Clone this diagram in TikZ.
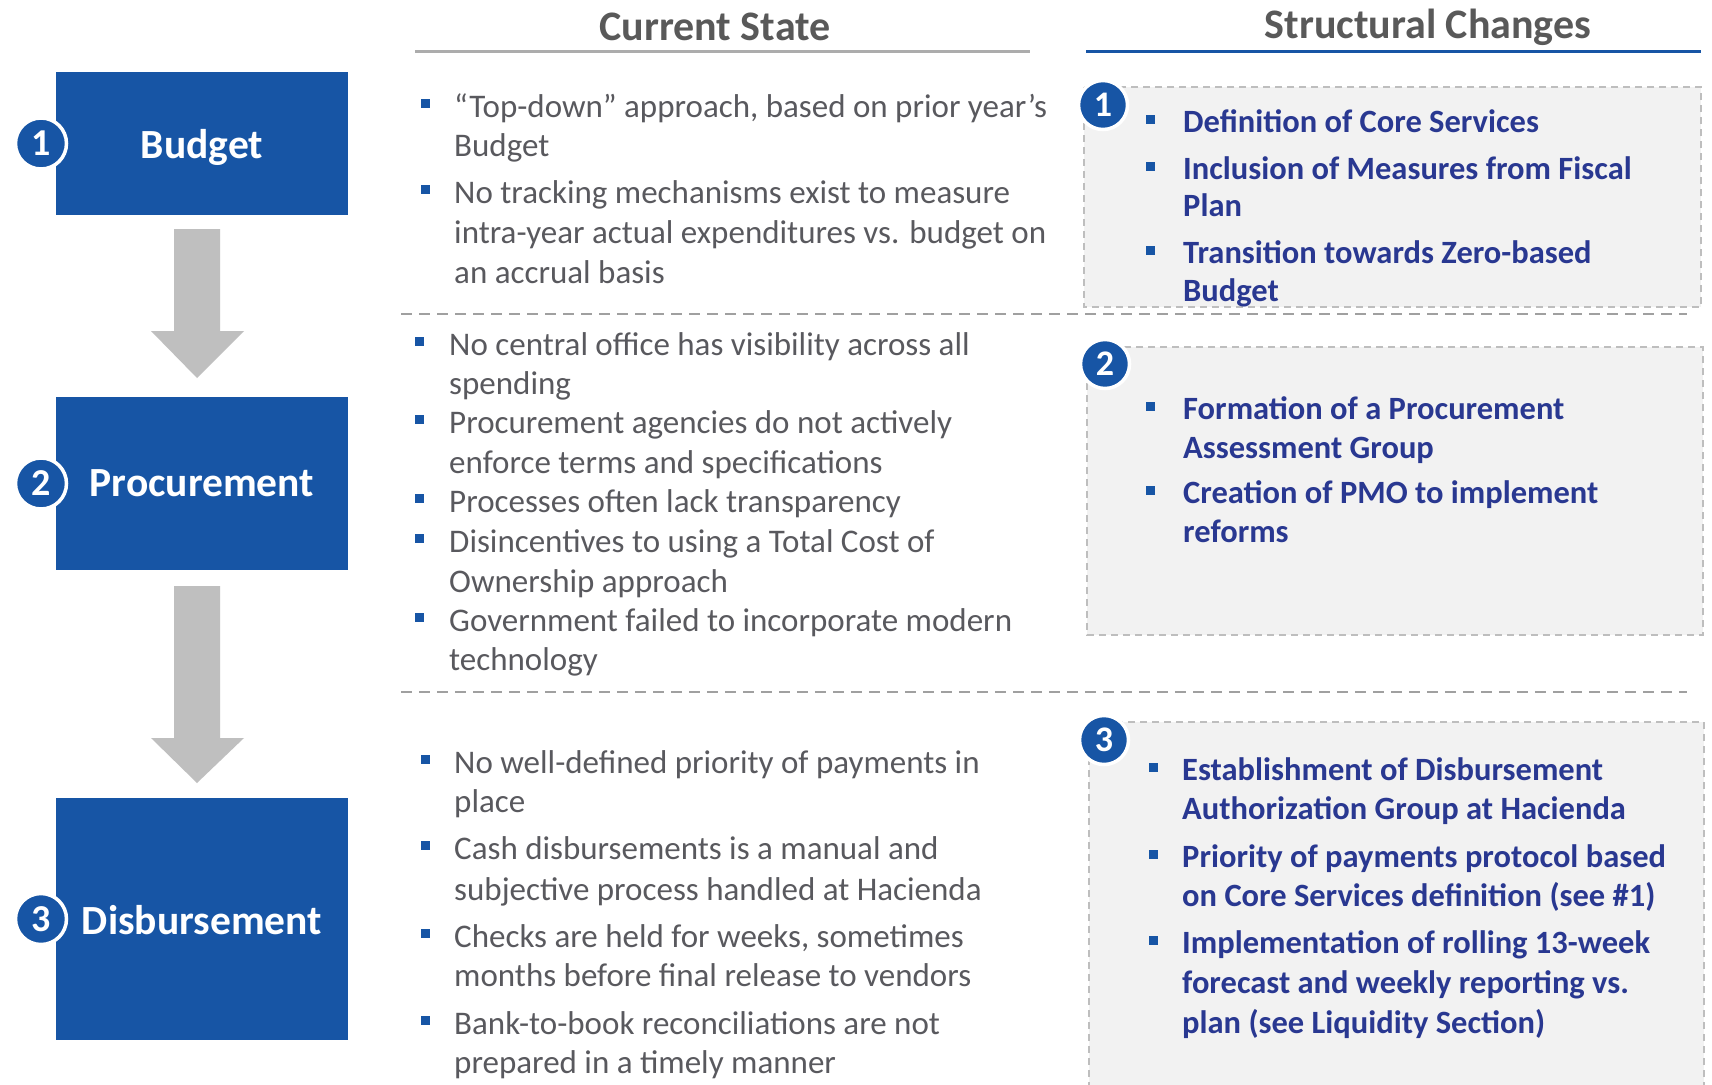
\documentclass[tikz,border=0pt]{standalone}
\usepackage{fontspec}
\setmainfont{Carlito}
\definecolor{boxblue}{RGB}{23,85,165}
\definecolor{txtgray}{RGB}{89,89,94}
\definecolor{navy}{RGB}{41,56,145}
\definecolor{headgray}{RGB}{89,89,89}
\definecolor{arrowgray}{RGB}{191,191,191}
\definecolor{boxfill}{RGB}{242,242,242}
\definecolor{sepgray}{RGB}{160,160,160}
\definecolor{bordgray}{RGB}{190,190,190}
\begin{document}
\begin{tikzpicture}[x=1pt,y=-1pt,
  stagebox/.style={fill=boxblue,draw=none,inner sep=0,text=white,font=\bfseries\fontsize{41.5}{48}\selectfont},
  numcirc/.style={circle,fill=boxblue,draw=white,line width=3.5pt,minimum size=51pt,inner sep=0,text=white,font=\bfseries\fontsize{38}{40}\selectfont},
  rnumcirc/.style={circle,fill=boxblue,draw=white,line width=3.5pt,minimum size=49pt,inner sep=0,text=white,font=\bfseries\fontsize{36}{40}\selectfont},
  cs/.style={anchor=base west,inner sep=0,text=txtgray,font=\fontsize{33}{39}\selectfont},
  sc/.style={anchor=base west,inner sep=0,text=navy,font=\bfseries\fontsize{32.5}{38}\selectfont},
  bsq/.style={rectangle,fill=boxblue,minimum size=9pt,inner sep=0},
  head/.style={inner sep=0,text=headgray,font=\bfseries\fontsize{42}{48}\selectfont},
  chbox/.style={fill=boxfill,draw=bordgray,line width=1.5pt,dash pattern=on 7pt off 5pt},
  sep/.style={draw=sepgray,line width=2.2pt,dash pattern=on 11pt off 7pt},
  blockarrow/.style={fill=arrowgray,draw=none}
]
\useasboundingbox (0,0) rectangle (1712,1084);
\fill[white] (0,0) rectangle (1712,1084);

% headers
\node[head] (hcs) at (715,27) {Current State};
\node[head] (hsc) at (1428,27) {Structural Changes};
\coordinate (ul1a) at (415,51); \coordinate (ul1b) at (1030,51);
\coordinate (ul2a) at (1086,51); \coordinate (ul2b) at (1701,51);
\draw[line width=3pt,arrowgray!90!black] (ul1a) -- (ul1b);
\draw[line width=3pt,boxblue] (ul2a) -- (ul2b);

% left stage boxes
\path[stagebox] (56,72) rectangle (348,215);
\node[stagebox,fill=none] (budget) at (202,147) {Budget};
\path[stagebox] (56,397) rectangle (348,570);
\node[stagebox,fill=none] (proc) at (202,483.5) {Procurement};
\path[stagebox] (56,798) rectangle (348,1040);
\node[stagebox,fill=none] (disb) at (202,920) {Disbursement};

\node[numcirc] (c1) at (41,143.5) {1};
\node[numcirc] (c2) at (41,483.5) {2};
\node[numcirc] (c3) at (41,919) {3};

% block arrows
\fill[blockarrow] (174,229) -- (220,229) -- (220,331) -- (244,331) -- (197,378) -- (151,331) -- (174,331) -- cycle;
\fill[blockarrow] (174,586) -- (220,586) -- (220,738) -- (244,738) -- (197,783) -- (151,738) -- (174,738) -- cycle;

% separators
\coordinate (s1a) at (401,314); \coordinate (s1b) at (1687,314);
\coordinate (s2a) at (401,692); \coordinate (s2b) at (1687,692);
\draw[sep] (s1a) -- (s1b);
\draw[sep] (s2a) -- (s2b);

% right change boxes
\path[chbox] (1084,87) rectangle (1701,307);
\path[chbox] (1087,347) rectangle (1703,635);
\path[chbox] (1089,722) rectangle (1704,1090);
\node[rnumcirc] (r1) at (1103,105) {1};
\node[rnumcirc] (r2) at (1105,364) {2};
\node[rnumcirc] (r3) at (1104,740) {3};

% current state, section 1
\node[bsq] (b11) at (425,103) {};
\node[cs] (l11) at (454,117) {“Top-down” approach, based on prior year’s};
\node[cs] (l12) at (454,156) {Budget};
\node[bsq] (b12) at (425,189) {};
\node[cs] (l13) at (454,203) {No tracking mechanisms exist to measure};
\node[cs] (l14) at (454,243) {intra-year actual expenditures vs. budget on};
\node[cs] (l15) at (454,283) {an accrual basis};

% current state, section 2
\node[bsq] (b21) at (419,341) {};
\node[cs] (l21) at (449,355) {No central office has visibility across all};
\node[cs] (l22) at (449,394) {spending};
\node[bsq] (b22) at (419,419) {};
\node[cs] (l23) at (449,433) {Procurement agencies do not actively};
\node[cs] (l24) at (449,473) {enforce terms and specifications};
\node[bsq] (b23) at (419,498) {};
\node[cs] (l25) at (449,512) {Processes often lack transparency};
\node[bsq] (b24) at (419,538) {};
\node[cs] (l26) at (449,552) {Disincentives to using a Total Cost of};
\node[cs] (l27) at (449,592) {Ownership approach};
\node[bsq] (b25) at (419,617) {};
\node[cs] (l28) at (449,631) {Government failed to incorporate modern};
\node[cs] (l29) at (449,670) {technology};

% current state, section 3
\node[bsq] (b31) at (425,759) {};
\node[cs] (l31) at (454,773) {No well-defined priority of payments in};
\node[cs] (l32) at (454,812) {place};
\node[bsq] (b32) at (425,845) {};
\node[cs] (l33) at (454,859) {Cash disbursements is a manual and};
\node[cs] (l34) at (454,900) {subjective process handled at Hacienda};
\node[bsq] (b33) at (425,933) {};
\node[cs] (l35) at (454,947) {Checks are held for weeks, sometimes};
\node[cs] (l36) at (454,986) {months before final release to vendors};
\node[bsq] (b34) at (425,1020) {};
\node[cs] (l37) at (454,1034) {Bank-to-book reconciliations are not};
\node[cs] (l38) at (454,1073) {prepared in a timely manner};

% structural changes, box 1
\node[bsq] (rb11) at (1150,119.5) {};
\node[sc] (r11) at (1183,132) {Definition of Core Services};
\node[bsq] (rb12) at (1150,166.5) {};
\node[sc] (r12) at (1183,179) {Inclusion of Measures from Fiscal};
\node[sc] (r13) at (1183,216) {Plan};
\node[bsq] (rb13) at (1150,250.5) {};
\node[sc] (r14) at (1183,263) {Transition towards Zero-based};
\node[sc] (r15) at (1183,301) {Budget};

% structural changes, box 2
\node[bsq] (rb21) at (1150,406.5) {};
\node[sc] (r21) at (1183,419) {Formation of a Procurement};
\node[sc] (r22) at (1183,458) {Assessment Group};
\node[bsq] (rb22) at (1150,490.5) {};
\node[sc] (r23) at (1183,503) {Creation of PMO to implement};
\node[sc] (r24) at (1183,542) {reforms};

% structural changes, box 3
\node[bsq] (rb31) at (1153,767.5) {};
\node[sc] (r31) at (1182,780) {Establishment of Disbursement};
\node[sc] (r32) at (1182,819) {Authorization Group at Hacienda};
\node[bsq] (rb32) at (1153,854.5) {};
\node[sc] (r33) at (1182,867) {Priority of payments protocol based};
\node[sc] (r34) at (1182,906) {on Core Services definition (see \#1)};
\node[bsq] (rb33) at (1153,940.5) {};
\node[sc] (r35) at (1182,953) {Implementation of rolling 13-week};
\node[sc] (r36) at (1182,993) {forecast and weekly reporting vs.};
\node[sc] (r37) at (1182,1033) {plan (see Liquidity Section)};
\end{tikzpicture}
\end{document}
